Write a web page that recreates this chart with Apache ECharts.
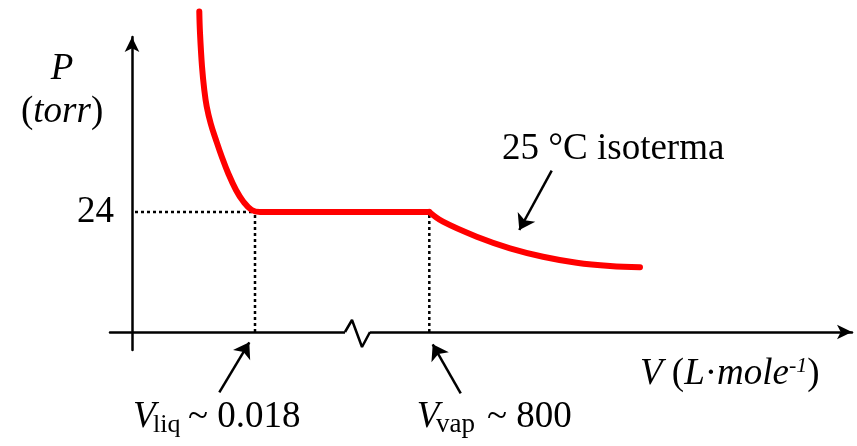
<!DOCTYPE html>
<html>
<head>
<meta charset="utf-8">
<script src="https://cdn.jsdelivr.net/npm/echarts@6/dist/echarts.min.js"></script>
<style>
html, body { margin: 0; padding: 0; background: #fff; }
#chart { width: 857px; height: 446px; }
</style>
</head>
<body>
<div id="chart"></div>
<script>
// isoterma 25 °C : V en unidades esquemáticas (eje cortado), P en torr
var liqV = [6.73, 6.8, 7.0, 7.23, 7.47, 7.87, 8.4, 8.97, 9.63, 10.4, 11.13, 11.97, 12.8, 29.73];
var liqP = [64.1, 59.8, 53.1, 48.4, 45.1, 41.7, 38.4, 35.1, 31.7, 28.4, 26.1, 24.4, 24, 24];
var vapV = [29.73, 31.1, 34.47, 37.8, 41.1, 44.47, 47.8, 50.8];
var vapP = [24, 22.06, 19.06, 16.74, 15.06, 13.86, 13.2, 12.94];
var pSat = 24;
var vLiq = 12.3;
var vVap = 29.73;
var pTicks = [24];
// corte del eje V
var breakV = [21.3, 22.0, 23.0, 23.8];
var breakP = [0, 2.4, -3, 0];
// flechas de anotación: [cola, punta]
var arrowIso = [[41.97, 32.26], [38.73, 20.4]];
var arrowLiq = [[8.73, -12.06], [11.73, -2.06]];
var arrowVap = [[32.87, -12.26], [30.07, -2.46]];

var serif = '"Liberation Serif", "Times New Roman", serif';

function zip(xs, ys) {
  return xs.map(function (x, i) { return [x, ys[i]]; });
}

function txt(x, y, text, size, italic) {
  return {
    type: 'text', x: x, y: y,
    style: {
      text: text, fontSize: size, fontStyle: italic ? 'italic' : 'normal',
      fontFamily: serif, fill: '#000', align: 'left', verticalAlign: 'middle'
    }
  };
}

var redLine = { color: '#ff0000', width: 6, cap: 'round', join: 'round' };
var dotLine = { color: '#000', width: 2.5, type: [3, 3] };

var myChart = echarts.init(document.getElementById('chart'));
myChart.setOption({
  animation: false,
  grid: { left: 110, right: 5, top: 37, bottom: 96 },
  xAxis: {
    type: 'value',
    min: -2.2,
    max: 72,
    axisLine: {
      onZero: true,
      symbol: ['none', 'arrow'],
      symbolSize: [11, 15],
      lineStyle: { color: '#000', width: 2.5 }
    },
    axisTick: { show: false },
    axisLabel: { show: false },
    splitLine: { show: false }
  },
  yAxis: {
    type: 'value',
    min: -3.6,
    max: 59,
    axisLine: {
      onZero: true,
      symbol: ['none', 'arrow'],
      symbolSize: [11, 15],
      lineStyle: { color: '#000', width: 2.5 }
    },
    axisTick: { show: false },
    axisLabel: {
      customValues: pTicks,
      margin: -4,
      padding: [7, 0, 0, 0],
      color: '#000',
      fontSize: 37,
      fontFamily: serif
    },
    splitLine: { show: false }
  },
  series: [
    { type: 'line', data: [[0.3, pSat], [vLiq, pSat]], showSymbol: false, silent: true, lineStyle: dotLine, z: 1 },
    { type: 'line', data: [[vLiq, 0], [vLiq, pSat]], showSymbol: false, silent: true, lineStyle: dotLine, z: 1 },
    { type: 'line', data: [[vVap, 0], [vVap, pSat]], showSymbol: false, silent: true, lineStyle: dotLine, z: 1 },
    {
      name: 'isoterma',
      type: 'line',
      data: zip(liqV, liqP),
      showSymbol: false,
      clip: false,
      smooth: 0.4,
      silent: true,
      lineStyle: redLine,
      z: 3
    },
    {
      name: 'isoterma',
      type: 'line',
      data: zip(vapV, vapP),
      showSymbol: false,
      clip: false,
      smooth: 0.4,
      silent: true,
      lineStyle: redLine,
      z: 3
    },
    {
      // hueco en el eje
      type: 'line',
      data: [[breakV[0], 0], [breakV[3], 0]],
      showSymbol: false,
      silent: true,
      lineStyle: { color: '#fff', width: 6 },
      z: 4
    },
    {
      type: 'line',
      data: zip(breakV, breakP),
      showSymbol: false,
      silent: true,
      lineStyle: { color: '#000', width: 2.5 },
      z: 5
    },
    {
      type: 'lines',
      coordinateSystem: 'cartesian2d',
      clip: false,
      silent: true,
      symbol: ['none', 'arrow'],
      symbolSize: [11, 15],
      lineStyle: { color: '#000', width: 2.5, opacity: 1, curveness: 0 },
      data: [
        { coords: arrowIso },
        { coords: arrowLiq },
        { coords: arrowVap }
      ],
      z: 5
    }
  ],
  graphic: [
    {
      type: 'text', x: 62, y: 69.5,
      style: { text: 'P', fontSize: 37, fontStyle: 'italic', fontFamily: serif, fill: '#000', align: 'center', verticalAlign: 'middle' }
    },
    {
      type: 'text', x: 21, y: 112.5,
      style: {
        text: '{n|(}{i|torr}{n|)}', align: 'left', verticalAlign: 'middle',
        rich: {
          n: { fontSize: 37, fontFamily: serif, fill: '#000' },
          i: { fontSize: 37, fontStyle: 'italic', fontFamily: serif, fill: '#000' }
        }
      }
    },
    txt(502, 149.2, '25 °C isoterma', 37, false),
    {
      type: 'text', x: 640, y: 374.2,
      style: {
        text: '{i|V}{n| (}{i|L}{n|·}{i|mole}{s|-1}{n|)}', align: 'left', verticalAlign: 'middle',
        rich: {
          n: { fontSize: 37, fontFamily: serif, fill: '#000' },
          i: { fontSize: 37, fontStyle: 'italic', fontFamily: serif, fill: '#000' },
          s: { fontSize: 22, fontStyle: 'italic', fontFamily: serif, fill: '#000', verticalAlign: 'top' }
        }
      }
    },
    txt(133, 416.8, 'V', 37, true),
    txt(153, 425.2, 'liq', 26, false),
    txt(188, 416.8, '~ 0.018', 37, false),
    txt(416.7, 416.8, 'V', 37, true),
    txt(436, 425.2, 'vap', 27, false),
    txt(487, 416.8, '~ 800', 37, false)
  ]
});
</script>
</body>
</html>
